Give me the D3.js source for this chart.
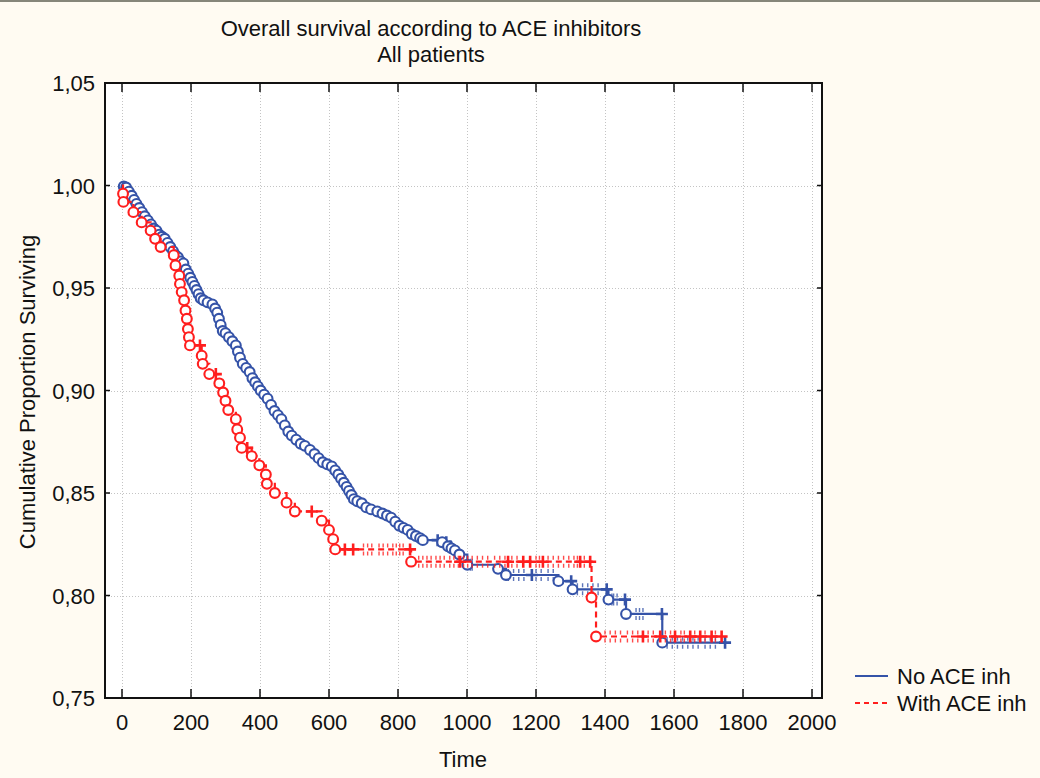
<!DOCTYPE html>
<html><head><meta charset="utf-8">
<script src="https://cdn.jsdelivr.net/npm/d3@7"></script>
<style>
html,body{margin:0;padding:0;background:#fffbf2;}
svg{display:block;font-family:"Liberation Sans",Arial,sans-serif;}
</style></head>
<body><svg id="chart" width="1040" height="778"></svg>
<script>
// ---- data ----
const title1 = "Overall survival according to ACE inhibitors";
const title2 = "All patients";
const xLabel = "Time";
const yLabel = "Cumulative Proportion Surviving";
const seriesNames = ["No ACE inh", "With ACE inh"];
const xTicks = [0,200,400,600,800,1000,1200,1400,1600,1800,2000];
const yTicks = [0.75,0.80,0.85,0.90,0.95,1.00,1.05];

// No ACE inh: event times and survival after each event
const noAceTimes = [5,12,20,28,35,42,50,58,66,75,84,92,100,108,116,124,132,140,148,155,162,170,178,185,192,198,204,210,216,222,228,236,248,262,270,276,281,286,292,300,310,320,330,336,342,350,360,370,378,386,394,402,412,422,432,442,452,462,472,482,492,505,518,530,545,558,570,582,595,608,618,627,635,643,651,658,665,672,682,695,708,722,740,755,768,780,792,804,816,828,840,852,864,872,928,945,955,965,978,1001,1090,1113,1265,1306,1410,1461,1566];
const noAceSurv = [0.9995,0.999,0.997,0.995,0.993,0.991,0.989,0.987,0.985,0.983,0.981,0.979,0.978,0.976,0.975,0.974,0.972,0.970,0.968,0.966,0.965,0.963,0.962,0.959,0.957,0.955,0.953,0.951,0.949,0.947,0.945,0.944,0.943,0.942,0.940,0.938,0.935,0.932,0.929,0.928,0.926,0.924,0.922,0.919,0.916,0.913,0.911,0.909,0.906,0.904,0.902,0.900,0.898,0.896,0.893,0.890,0.888,0.886,0.883,0.880,0.878,0.876,0.874,0.873,0.871,0.869,0.867,0.865,0.864,0.863,0.861,0.859,0.857,0.855,0.853,0.851,0.849,0.847,0.846,0.845,0.843,0.842,0.841,0.840,0.839,0.838,0.836,0.834,0.833,0.832,0.830,0.829,0.828,0.827,0.826,0.824,0.823,0.822,0.820,0.815,0.813,0.810,0.807,0.803,0.798,0.791,0.777];
const noAceCensorBig = [915,940,952,1188,1302,1405,1458,1565,1748];
const noAceCensorSmall = [1010,1015,1120,1135,1150,1165,1200,1215,1235,1250,1320,1335,1350,1365,1380,1420,1425,1435,1490,1500,1510,1580,1595,1610,1625,1640,1655,1670,1690,1705,1720];

// With ACE inh
const aceTimes = [3,4,33,57,83,96,112,150,155,166,168,173,180,184,188,191,194,197,231,234,253,282,293,300,308,330,334,342,347,376,398,417,420,443,477,501,579,600,612,618,838,1361,1374];
const aceSurv = [0.996,0.992,0.987,0.982,0.978,0.974,0.970,0.966,0.961,0.956,0.952,0.948,0.944,0.939,0.935,0.930,0.926,0.922,0.917,0.913,0.908,0.9035,0.899,0.895,0.8905,0.886,0.881,0.877,0.872,0.868,0.8635,0.859,0.8545,0.850,0.8453,0.841,0.8365,0.832,0.8275,0.8225,0.8165,0.799,0.780];
const aceCensorBig = [226,272,363,550,646,670,835,980,1119,1163,1183,1220,1328,1357,1510,1560,1603,1647,1676,1709,1738];
const aceCensorSmall = [700,712,724,745,757,770,785,795,805,815,860,872,884,896,910,922,934,950,962,975,990,1002,1015,1030,1045,1060,1080,1095,1110,1130,1145,1200,1210,1235,1250,1265,1280,1295,1310,1320,1340,1400,1415,1430,1445,1465,1480,1495,1525,1540,1575,1590,1620,1630,1660,1690,1720];

// ---- layout ----
const svg = d3.select("#chart");
const W = 1040, H = 778;
const plot = {left:105, right:822, top:83, bottom:698};
const x = d3.scaleLinear().domain([0,2000]).range([122,812]);
const y = d3.scaleLinear().domain([0.75,1.05]).range([698,83]);
const blue = "#3553a8", red = "#ff1e1e";
const fmt = v => d3.format(".2f")(v).replace(".", ",");

svg.append("rect").attr("width",W).attr("height",H).attr("fill","#fffbf2");
svg.append("rect").attr("x",0).attr("y",0).attr("width",W).attr("height",2).attr("fill","#86867a");

// plot background
svg.append("rect").attr("x",plot.left).attr("y",plot.top)
  .attr("width",plot.right-plot.left).attr("height",plot.bottom-plot.top).attr("fill","#ffffff");

// grid
const grid = svg.append("g").attr("stroke","#c4c4c4").attr("stroke-width",1).attr("stroke-dasharray","1,2");
grid.selectAll(".gx").data(xTicks).join("line")
  .attr("x1",d=>x(d)+0.5).attr("x2",d=>x(d)+0.5).attr("y1",plot.top).attr("y2",plot.bottom);
grid.selectAll(".gy").data(yTicks.filter(d=>d>0.75&&d<1.05)).join("line")
  .attr("y1",d=>Math.round(y(d))+0.5).attr("y2",d=>Math.round(y(d))+0.5).attr("x1",plot.left).attr("x2",plot.right);

// curves
function stepPoints(times, surv, endT){
  const pts = [[0,1]];
  times.forEach((t,i)=>{ pts.push([t, i===0?1:surv[i-1]]); pts.push([t, surv[i]]); });
  pts.push([endT, surv[surv.length-1]]);
  return pts;
}
function survAt(times, surv, t){
  let s = 1;
  for(let i=0;i<times.length;i++){ if(times[i]<=t) s = surv[i]; }
  return s;
}
const line = d3.line().x(d=>x(d[0])).y(d=>y(d[1]));
const plotG = svg.append("g");

function drawSeries(times, surv, cBig, cSmall, color, dash){
  const endT = Math.max(d3.max(cBig), d3.max(cSmall), d3.max(times));
  plotG.append("path").datum(stepPoints(times,surv,endT))
    .attr("d",line).attr("fill","none").attr("stroke",color).attr("stroke-width",2.2)
    .attr("stroke-dasharray",dash);
  // small censor ticks
  plotG.append("g").selectAll("path").data(cSmall).join("path")
    .attr("d",d=>{const cx=x(d), cy=y(survAt(times,surv,d)); return `M${cx},${cy-6}V${cy-2}M${cx},${cy+2}V${cy+6}`;})
    .attr("stroke",color).attr("stroke-width",1.4).attr("opacity",0.8).attr("fill","none");
  // big censor plus
  plotG.append("g").selectAll("path").data(cBig).join("path")
    .attr("d",d=>{const cx=x(d), cy=y(survAt(times,surv,d)); return `M${cx-6},${cy}H${cx+6}M${cx},${cy-6}V${cy+6}`;})
    .attr("stroke",color).attr("stroke-width",2.6).attr("fill","none");
  // event circles
  plotG.append("g").selectAll("circle").data(times.map((t,i)=>[t,surv[i]])).join("circle")
    .attr("cx",d=>x(d[0])).attr("cy",d=>y(d[1])).attr("r",4.9)
    .attr("fill","#ffffff").attr("stroke",color).attr("stroke-width",2.1);
}
drawSeries(noAceTimes, noAceSurv, noAceCensorBig, noAceCensorSmall, blue, null);
drawSeries(aceTimes, aceSurv, aceCensorBig, aceCensorSmall, red, "6,4");

// frame
svg.append("rect").attr("x",plot.left).attr("y",plot.top)
  .attr("width",plot.right-plot.left).attr("height",plot.bottom-plot.top)
  .attr("fill","none").attr("stroke","#111").attr("stroke-width",2);

// ticks (inward)
const tk = svg.append("g").attr("stroke","#111").attr("stroke-width",1.5);
tk.selectAll(".tb").data(xTicks).join("line")
  .attr("x1",d=>x(d)).attr("x2",d=>x(d)).attr("y1",plot.bottom).attr("y2",plot.bottom-9);
tk.selectAll(".tt").data(xTicks).join("line")
  .attr("x1",d=>x(d)).attr("x2",d=>x(d)).attr("y1",plot.top).attr("y2",plot.top+9);
tk.selectAll(".tl").data(yTicks).join("line")
  .attr("y1",d=>y(d)).attr("y2",d=>y(d)).attr("x1",plot.left).attr("x2",plot.left+5);
tk.selectAll(".tr").data(yTicks).join("line")
  .attr("y1",d=>y(d)).attr("y2",d=>y(d)).attr("x1",plot.right).attr("x2",plot.right-5);

// tick labels
const fs = 22;
svg.append("g").selectAll("text").data(yTicks).join("text")
  .attr("x",95).attr("y",d=>y(d)+8).attr("text-anchor","end")
  .attr("font-size",fs).attr("fill","#111").text(fmt);
svg.append("g").selectAll("text").data(xTicks).join("text")
  .attr("x",d=>x(d)).attr("y",730).attr("text-anchor","middle")
  .attr("font-size",fs).attr("fill","#111").text(d=>d);

// titles
svg.append("text").attr("x",431).attr("y",36).attr("text-anchor","middle").attr("font-size",fs).attr("fill","#111").text(title1);
svg.append("text").attr("x",431).attr("y",62).attr("text-anchor","middle").attr("font-size",fs).attr("fill","#111").text(title2);
svg.append("text").attr("x",463).attr("y",767).attr("text-anchor","middle").attr("font-size",fs).attr("fill","#111").text(xLabel);
svg.append("text").attr("transform","translate(35,392) rotate(-90)").attr("text-anchor","middle").attr("font-size",fs).attr("fill","#111").text(yLabel);

// legend
const leg = svg.append("g");
const legColors = [blue, red], legDash = [null, "5,4"];
seriesNames.forEach((n,i)=>{
  const ly = 676 + i*27;
  leg.append("line").attr("x1",855).attr("x2",888).attr("y1",ly).attr("y2",ly)
    .attr("stroke",legColors[i]).attr("stroke-width",2).attr("stroke-dasharray",legDash[i]);
  leg.append("text").attr("x",897).attr("y",ly+8).attr("font-size",fs).attr("fill","#111").text(n);
});
</script></body></html>
